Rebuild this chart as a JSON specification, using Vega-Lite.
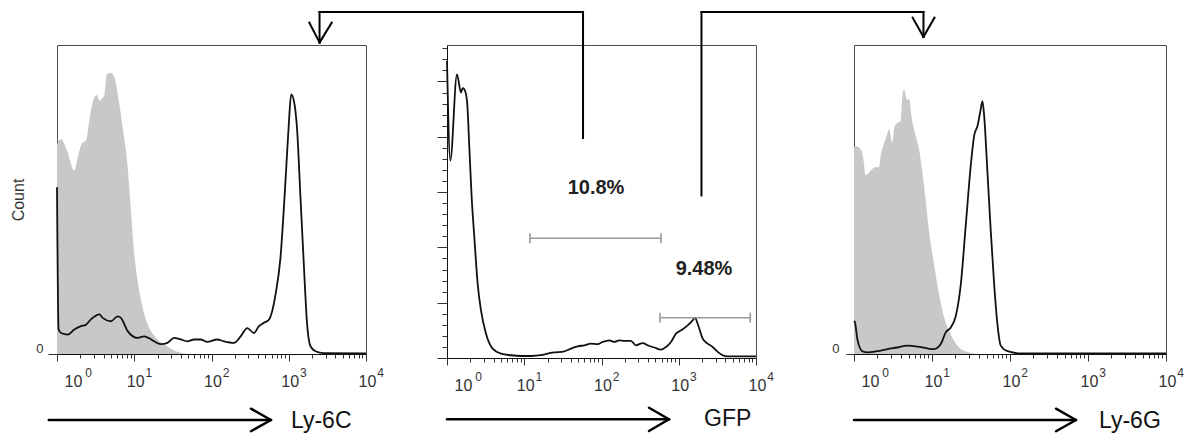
{
  "$schema": "https://vega.github.io/schema/vega-lite/v6.json",
  "background": "white",
  "padding": {"left": 10, "top": 10, "right": 0, "bottom": 0},
  "datasets": {
    "ly6c_isotype": [
      {"log10_intensity": 0, "count": 68}, {"log10_intensity": 0.052, "count": 69.6}, {"log10_intensity": 0.13, "count": 65.8},
      {"log10_intensity": 0.224, "count": 59.3}, {"log10_intensity": 0.289, "count": 65.8}, {"log10_intensity": 0.333, "count": 68.5},
      {"log10_intensity": 0.375, "count": 69}, {"log10_intensity": 0.418, "count": 75.5}, {"log10_intensity": 0.483, "count": 83.1},
      {"log10_intensity": 0.518, "count": 83.7}, {"log10_intensity": 0.548, "count": 82}, {"log10_intensity": 0.583, "count": 82.7},
      {"log10_intensity": 0.613, "count": 83.7}, {"log10_intensity": 0.647, "count": 90.7}, {"log10_intensity": 0.699, "count": 90.9},
      {"log10_intensity": 0.742, "count": 89.6}, {"log10_intensity": 0.806, "count": 81}, {"log10_intensity": 0.85, "count": 73.4},
      {"log10_intensity": 0.915, "count": 60.4}, {"log10_intensity": 0.958, "count": 46.3}, {"log10_intensity": 1.0, "count": 32.4},
      {"log10_intensity": 1.044, "count": 23.6}, {"log10_intensity": 1.109, "count": 14.9}, {"log10_intensity": 1.174, "count": 9.6},
      {"log10_intensity": 1.281, "count": 5.2}, {"log10_intensity": 1.389, "count": 3.1}, {"log10_intensity": 1.54, "count": 0.9},
      {"log10_intensity": 1.73, "count": 0}, {"log10_intensity": 4, "count": 0}
    ],
    "ly6c_stained": [
      {"log10_intensity": 0, "count": 54}, {"log10_intensity": 0.02, "count": 8}, {"log10_intensity": 0.052, "count": 6.8},
      {"log10_intensity": 0.139, "count": 6.3}, {"log10_intensity": 0.224, "count": 7.9}, {"log10_intensity": 0.311, "count": 9.0},
      {"log10_intensity": 0.375, "count": 9.5}, {"log10_intensity": 0.44, "count": 11.2}, {"log10_intensity": 0.548, "count": 12.8},
      {"log10_intensity": 0.591, "count": 11.7}, {"log10_intensity": 0.699, "count": 10.6}, {"log10_intensity": 0.785, "count": 12.2},
      {"log10_intensity": 0.828, "count": 11.7}, {"log10_intensity": 0.915, "count": 7.4}, {"log10_intensity": 1.042, "count": 5.2},
      {"log10_intensity": 1.128, "count": 5.7}, {"log10_intensity": 1.2, "count": 5.0}, {"log10_intensity": 1.257, "count": 4.1},
      {"log10_intensity": 1.343, "count": 3.2}, {"log10_intensity": 1.43, "count": 3.6}, {"log10_intensity": 1.516, "count": 5.2},
      {"log10_intensity": 1.602, "count": 4.7}, {"log10_intensity": 1.688, "count": 4.1}, {"log10_intensity": 1.774, "count": 4.7},
      {"log10_intensity": 1.86, "count": 4.7}, {"log10_intensity": 1.946, "count": 3.9}, {"log10_intensity": 2.075, "count": 4.7},
      {"log10_intensity": 2.161, "count": 4.1}, {"log10_intensity": 2.291, "count": 3.6}, {"log10_intensity": 2.377, "count": 5.7},
      {"log10_intensity": 2.463, "count": 8.4}, {"log10_intensity": 2.549, "count": 6.8}, {"log10_intensity": 2.614, "count": 9.0},
      {"log10_intensity": 2.678, "count": 10.1}, {"log10_intensity": 2.743, "count": 11.1}, {"log10_intensity": 2.786, "count": 13.9},
      {"log10_intensity": 2.829, "count": 19.3}, {"log10_intensity": 2.893, "count": 31.2}, {"log10_intensity": 2.958, "count": 56.1},
      {"log10_intensity": 3.001, "count": 74.5}, {"log10_intensity": 3.031, "count": 84}, {"log10_intensity": 3.066, "count": 82},
      {"log10_intensity": 3.109, "count": 72.3}, {"log10_intensity": 3.152, "count": 50.6}, {"log10_intensity": 3.195, "count": 29},
      {"log10_intensity": 3.238, "count": 9.5}, {"log10_intensity": 3.281, "count": 2.5}, {"log10_intensity": 3.346, "count": 0.9},
      {"log10_intensity": 3.453, "count": 0.3}, {"log10_intensity": 4, "count": 0.2}
    ],
    "gfp": [
      {"log10_intensity": 0, "count": 537}, {"log10_intensity": 0.043, "count": 357}, {"log10_intensity": 0.129, "count": 513},
      {"log10_intensity": 0.181, "count": 480}, {"log10_intensity": 0.203, "count": 488}, {"log10_intensity": 0.224, "count": 486},
      {"log10_intensity": 0.259, "count": 465}, {"log10_intensity": 0.289, "count": 381}, {"log10_intensity": 0.319, "count": 291},
      {"log10_intensity": 0.354, "count": 218}, {"log10_intensity": 0.397, "count": 134}, {"log10_intensity": 0.44, "count": 86},
      {"log10_intensity": 0.505, "count": 44}, {"log10_intensity": 0.591, "count": 17}, {"log10_intensity": 0.699, "count": 8},
      {"log10_intensity": 0.828, "count": 5}, {"log10_intensity": 0.958, "count": 3.6}, {"log10_intensity": 1.09, "count": 3.6},
      {"log10_intensity": 1.217, "count": 5}, {"log10_intensity": 1.303, "count": 8}, {"log10_intensity": 1.389, "count": 10},
      {"log10_intensity": 1.519, "count": 12}, {"log10_intensity": 1.605, "count": 17}, {"log10_intensity": 1.691, "count": 21},
      {"log10_intensity": 1.778, "count": 23}, {"log10_intensity": 1.864, "count": 26}, {"log10_intensity": 1.95, "count": 25},
      {"log10_intensity": 2.014, "count": 29}, {"log10_intensity": 2.101, "count": 32}, {"log10_intensity": 2.166, "count": 29},
      {"log10_intensity": 2.23, "count": 32}, {"log10_intensity": 2.295, "count": 31}, {"log10_intensity": 2.381, "count": 31},
      {"log10_intensity": 2.446, "count": 23}, {"log10_intensity": 2.532, "count": 27}, {"log10_intensity": 2.597, "count": 23},
      {"log10_intensity": 2.684, "count": 19}, {"log10_intensity": 2.77, "count": 15}, {"log10_intensity": 2.835, "count": 20},
      {"log10_intensity": 2.9, "count": 29}, {"log10_intensity": 2.964, "count": 44}, {"log10_intensity": 3.029, "count": 50},
      {"log10_intensity": 3.115, "count": 59}, {"log10_intensity": 3.18, "count": 68}, {"log10_intensity": 3.21, "count": 73},
      {"log10_intensity": 3.245, "count": 62}, {"log10_intensity": 3.31, "count": 35}, {"log10_intensity": 3.374, "count": 26},
      {"log10_intensity": 3.439, "count": 20}, {"log10_intensity": 3.504, "count": 11}, {"log10_intensity": 3.568, "count": 5},
      {"log10_intensity": 3.633, "count": 3}, {"log10_intensity": 4, "count": 3}
    ],
    "ly6g_isotype": [
      {"log10_intensity": 0, "count": 67}, {"log10_intensity": 0.021, "count": 67.2}, {"log10_intensity": 0.086, "count": 66.3},
      {"log10_intensity": 0.12, "count": 63.1}, {"log10_intensity": 0.15, "count": 57.8}, {"log10_intensity": 0.193, "count": 58.8},
      {"log10_intensity": 0.235, "count": 59.9}, {"log10_intensity": 0.278, "count": 60.4}, {"log10_intensity": 0.321, "count": 60.4},
      {"log10_intensity": 0.342, "count": 64.2}, {"log10_intensity": 0.376, "count": 67.4}, {"log10_intensity": 0.419, "count": 70.6},
      {"log10_intensity": 0.449, "count": 72.7}, {"log10_intensity": 0.492, "count": 68.4}, {"log10_intensity": 0.522, "count": 73.8},
      {"log10_intensity": 0.565, "count": 74.9}, {"log10_intensity": 0.599, "count": 75.4}, {"log10_intensity": 0.62, "count": 83.4},
      {"log10_intensity": 0.642, "count": 85.8}, {"log10_intensity": 0.676, "count": 82.4}, {"log10_intensity": 0.71, "count": 82.4},
      {"log10_intensity": 0.736, "count": 77}, {"log10_intensity": 0.779, "count": 71.7}, {"log10_intensity": 0.834, "count": 66.3},
      {"log10_intensity": 0.898, "count": 54.5}, {"log10_intensity": 0.963, "count": 39.6}, {"log10_intensity": 1.027, "count": 28.9},
      {"log10_intensity": 1.091, "count": 19.3}, {"log10_intensity": 1.155, "count": 11.8}, {"log10_intensity": 1.219, "count": 7.5},
      {"log10_intensity": 1.283, "count": 4.3}, {"log10_intensity": 1.369, "count": 1.6}, {"log10_intensity": 1.476, "count": 0.5},
      {"log10_intensity": 1.583, "count": 0}, {"log10_intensity": 4, "count": 0}
    ],
    "ly6g_stained": [
      {"log10_intensity": 0, "count": 10.7}, {"log10_intensity": 0.013, "count": 10.2}, {"log10_intensity": 0.043, "count": 4.8},
      {"log10_intensity": 0.107, "count": 0.9}, {"log10_intensity": 0.171, "count": 0.5}, {"log10_intensity": 0.3, "count": 0.9},
      {"log10_intensity": 0.428, "count": 1.6}, {"log10_intensity": 0.556, "count": 2.1}, {"log10_intensity": 0.684, "count": 2.7},
      {"log10_intensity": 0.813, "count": 2.4}, {"log10_intensity": 0.941, "count": 1.8}, {"log10_intensity": 1.027, "count": 1.6},
      {"log10_intensity": 1.112, "count": 3.2}, {"log10_intensity": 1.176, "count": 7}, {"log10_intensity": 1.241, "count": 8.6},
      {"log10_intensity": 1.305, "count": 12.3}, {"log10_intensity": 1.369, "count": 22.5}, {"log10_intensity": 1.433, "count": 41.7},
      {"log10_intensity": 1.497, "count": 61}, {"log10_intensity": 1.54, "count": 70.6}, {"log10_intensity": 1.583, "count": 73.8},
      {"log10_intensity": 1.617, "count": 78.1}, {"log10_intensity": 1.647, "count": 81.8}, {"log10_intensity": 1.669, "count": 77},
      {"log10_intensity": 1.711, "count": 58.8}, {"log10_intensity": 1.754, "count": 39.6}, {"log10_intensity": 1.797, "count": 22.5},
      {"log10_intensity": 1.839, "count": 9.6}, {"log10_intensity": 1.882, "count": 2.7}, {"log10_intensity": 1.968, "count": 0.9},
      {"log10_intensity": 2.139, "count": 0.2}, {"log10_intensity": 4, "count": 0.2}
    ],
    "gates": [
      {"gate": "10.8%", "lo": 1.074, "hi": 2.77, "level": 216.5, "label_x": 1.929, "label_y": 306.6},
      {"gate": "9.48%", "lo": 2.757, "hi": 3.926, "level": 72.9, "label_x": 3.327, "label_y": 161.8}
    ],
    "connectors": [
      {"x": -1.65, "x2": 1.761, "y": 625.7, "y2": 625.7},
      {"x": 1.761, "x2": 1.761, "y": 625.7, "y2": 397.8},
      {"x": 3.294, "x2": 6.168, "y": 625.7, "y2": 625.7},
      {"x": 3.294, "x2": 3.294, "y": 625.7, "y2": 293.9},
      {"x": -1.65, "x2": -1.65, "y": 625.7, "y2": 570.5},
      {"x": -1.782, "x2": -1.65, "y": 606.3, "y2": 570.5},
      {"x": -1.492, "x2": -1.65, "y": 606.3, "y2": 570.5},
      {"x": 6.168, "x2": 6.168, "y": 625.7, "y2": 580.5},
      {"x": 6.028, "x2": 6.168, "y": 615.4, "y2": 580.5},
      {"x": 6.31, "x2": 6.168, "y": 615.4, "y2": 580.5}
    ],
    "axis_arrows": [
      {"panel": "Ly-6C", "x": -0.107, "x2": 2.77, "y": -21.36, "y2": -21.36},
      {"panel": "Ly-6C", "x": 2.511, "x2": 2.77, "y": -17.7, "y2": -21.36},
      {"panel": "Ly-6C", "x": 2.511, "x2": 2.77, "y": -25.0, "y2": -21.36},
      {"panel": "GFP", "x": 0, "x2": 2.874, "y": -110.8, "y2": -110.8},
      {"panel": "GFP", "x": 2.615, "x2": 2.874, "y": -89.9, "y2": -110.8},
      {"panel": "GFP", "x": 2.615, "x2": 2.874, "y": -132.0, "y2": -110.8},
      {"panel": "Ly-6G", "x": 0, "x2": 2.846, "y": -21.36, "y2": -21.36},
      {"panel": "Ly-6G", "x": 2.59, "x2": 2.846, "y": -17.7, "y2": -21.36},
      {"panel": "Ly-6G", "x": 2.59, "x2": 2.846, "y": -25.0, "y2": -21.36}
    ],
    "axis_titles": [
      {"panel": "Ly-6C", "x": 3.029, "y": -21.7, "label": "Ly-6C"},
      {"panel": "GFP", "x": 3.327, "y": -110.3, "label": "GFP"},
      {"panel": "Ly-6G", "x": 3.141, "y": -21.7, "label": "Ly-6G"}
    ]
  },
  "bounds": "flush",
  "spacing": 81,
  "hconcat": [
    {
      "width": 309,
      "height": 309,
      "resolve": {"axis": {"x": "independent", "y": "independent"}},
      "layer": [
        {
          "data": {"name": "ly6c_isotype"},
          "mark": {"type": "area", "color": "#c8c8c8", "interpolate": "monotone"},
          "encoding": {
            "x": {"field": "log10_intensity", "type": "quantitative", "scale": {"domain": [0, 4], "nice": false, "zero": false},
              "axis": {"orient": "bottom", "title": null, "values": [0,0.30103,0.47712,0.60206,0.69897,0.77815,0.8451,0.90309,0.95424,1,1.30103,1.47712,1.60206,1.69897,1.77815,1.8451,1.90309,1.95424,2,2.30103,2.47712,2.60206,2.69897,2.77815,2.8451,2.90309,2.95424,3,3.30103,3.47712,3.60206,3.69897,3.77815,3.8451,3.90309,3.95424,4],
                "tickSize": {"condition": {"test": "datum.value == round(datum.value)", "value": 7}, "value": 4},
                "labelExpr": "datum.value == round(datum.value) ? '10' : ''",
                "labelFontSize": 16, "labelBaseline": "alphabetic", "labelPadding": 25,
                "labelOffset": {"condition": {"test": "datum.value == 0", "value": 16}, "value": 1},
                "labelFlush": false, "labelOverlap": false, "labelBound": false}},
            "y": {"field": "count", "type": "quantitative", "scale": {"domain": [0, 100], "nice": false},
              "axis": {"orient": "left", "values": [0], "tickSize": 9, "labelFontSize": 13, "labelPadding": 5, "labelBaseline": "alphabetic", "labelOffset": -2, "domain": false, "title": "Count", "titleFontSize": 16, "titlePadding": 9}}
          }
        },
        {
          "data": {"name": "ly6c_stained"},
          "mark": {"type": "line", "color": "#111111", "strokeWidth": 1.8, "interpolate": "monotone"},
          "encoding": {
            "x": {"field": "log10_intensity", "type": "quantitative", "scale": {"domain": [0, 4], "nice": false, "zero": false},
              "axis": {"orient": "bottom", "title": null, "values": [0, 1, 2, 3, 4], "ticks": false, "tickSize": 0, "domain": false,
                "labelExpr": "'' + datum.value", "labelFontSize": 12, "labelBaseline": "alphabetic", "labelPadding": 22,
                "labelOffset": {"condition": {"test": "datum.value == 0", "value": 31}, "value": 14},
                "labelFlush": false, "labelOverlap": false, "labelBound": false}},
            "y": {"field": "count", "type": "quantitative", "scale": {"domain": [0, 100], "nice": false}, "axis": null}
          }
        },
        {
          "data": {"name": "axis_arrows"},
          "transform": [{"filter": "datum.panel === 'Ly-6C'"}],
          "mark": {"type": "rule", "color": "black", "strokeWidth": 2.5, "strokeCap": "round"},
          "encoding": {
            "x": {"field": "x", "type": "quantitative", "scale": {"domain": [0, 4], "nice": false, "zero": false}, "axis": null},
            "x2": {"field": "x2"},
            "y": {"field": "y", "type": "quantitative", "scale": {"domain": [0, 100], "nice": false}, "axis": null},
            "y2": {"field": "y2"}
          }
        },
        {
          "data": {"name": "axis_titles"},
          "transform": [{"filter": "datum.panel === 'Ly-6C'"}],
          "mark": {"type": "text", "align": "left", "baseline": "middle", "fontSize": 23, "color": "#111111"},
          "encoding": {
            "x": {"field": "x", "type": "quantitative", "scale": {"domain": [0, 4], "nice": false, "zero": false}, "axis": null},
            "y": {"field": "y", "type": "quantitative", "scale": {"domain": [0, 100], "nice": false}, "axis": null},
            "text": {"field": "label"}
          }
        }
      ]
    },
    {
      "bounds": "flush",
      "spacing": 98,
      "hconcat": [
        {
          "width": 309,
          "height": 313,
          "resolve": {"axis": {"x": "independent", "y": "independent"}},
          "layer": [
            {
              "data": {"name": "gfp"},
              "mark": {"type": "line", "color": "#111111", "strokeWidth": 1.8, "interpolate": "monotone"},
              "encoding": {
                "x": {"field": "log10_intensity", "type": "quantitative", "scale": {"domain": [0, 4], "nice": false, "zero": false},
                  "axis": {"orient": "bottom", "title": null, "values": [0,0.30103,0.47712,0.60206,0.69897,0.77815,0.8451,0.90309,0.95424,1,1.30103,1.47712,1.60206,1.69897,1.77815,1.8451,1.90309,1.95424,2,2.30103,2.47712,2.60206,2.69897,2.77815,2.8451,2.90309,2.95424,3,3.30103,3.47712,3.60206,3.69897,3.77815,3.8451,3.90309,3.95424,4],
                    "tickSize": {"condition": {"test": "datum.value == round(datum.value)", "value": 7}, "value": 4},
                    "labelExpr": "datum.value == round(datum.value) ? '10' : ''",
                    "labelFontSize": 16, "labelBaseline": "alphabetic", "labelPadding": 25,
                    "labelOffset": {"condition": {"test": "datum.value == 0", "value": 16}, "value": 1},
                    "labelFlush": false, "labelOverlap": false, "labelBound": false}},
                "y": {"field": "count", "type": "quantitative", "scale": {"domain": [0, 566], "nice": false},
                  "axis": {"orient": "left", "title": null, "labels": false, "domain": true,
                    "values": [0,20,40,60,80,100,120,140,160,180,200,220,240,260,280,300,320,340,360,380,400,420,440,460,480,500,520,540,560],
                    "tickSize": {"condition": {"test": "datum.value % 100 == 0", "value": 10}, "value": 5}}}
              }
            },
            {
              "data": {"name": "gfp"},
              "mark": {"type": "line", "opacity": 0},
              "encoding": {
                "x": {"field": "log10_intensity", "type": "quantitative", "scale": {"domain": [0, 4], "nice": false, "zero": false},
                  "axis": {"orient": "bottom", "title": null, "values": [0, 1, 2, 3, 4], "ticks": false, "tickSize": 0, "domain": false,
                    "labelExpr": "'' + datum.value", "labelFontSize": 12, "labelBaseline": "alphabetic", "labelPadding": 22,
                    "labelOffset": {"condition": {"test": "datum.value == 0", "value": 31}, "value": 14},
                    "labelFlush": false, "labelOverlap": false, "labelBound": false}},
                "y": {"field": "count", "type": "quantitative", "scale": {"domain": [0, 566], "nice": false}, "axis": null}
              }
            },
            {
              "data": {"name": "gates"},
              "mark": {"type": "rule", "color": "#9a9a9a", "strokeWidth": 1.6},
              "encoding": {
                "x": {"field": "lo", "type": "quantitative", "scale": {"domain": [0, 4], "nice": false, "zero": false}, "axis": null},
                "x2": {"field": "hi"},
                "y": {"field": "level", "type": "quantitative", "scale": {"domain": [0, 566], "nice": false}, "axis": null}
              }
            },
            {
              "data": {"name": "gates"},
              "transform": [{"fold": ["lo", "hi"], "as": ["end", "bound"]}],
              "mark": {"type": "tick", "orient": "vertical", "color": "#9a9a9a", "size": 10, "thickness": 1.6, "opacity": 1},
              "encoding": {
                "x": {"field": "bound", "type": "quantitative", "scale": {"domain": [0, 4], "nice": false, "zero": false}, "axis": null},
                "y": {"field": "level", "type": "quantitative", "scale": {"domain": [0, 566], "nice": false}, "axis": null}
              }
            },
            {
              "data": {"name": "gates"},
              "mark": {"type": "text", "fontSize": 20, "fontWeight": "bold", "color": "#222222", "align": "center", "baseline": "middle"},
              "encoding": {
                "x": {"field": "label_x", "type": "quantitative", "scale": {"domain": [0, 4], "nice": false, "zero": false}, "axis": null},
                "y": {"field": "label_y", "type": "quantitative", "scale": {"domain": [0, 566], "nice": false}, "axis": null},
                "text": {"field": "gate"}
              }
            },
            {
              "data": {"name": "connectors"},
              "mark": {"type": "rule", "color": "black", "strokeWidth": 2, "strokeCap": "square"},
              "encoding": {
                "x": {"field": "x", "type": "quantitative", "scale": {"domain": [0, 4], "nice": false, "zero": false}, "axis": null},
                "x2": {"field": "x2"},
                "y": {"field": "y", "type": "quantitative", "scale": {"domain": [0, 566], "nice": false}, "axis": null},
                "y2": {"field": "y2"}
              }
            },
            {
              "data": {"name": "axis_arrows"},
              "transform": [{"filter": "datum.panel === 'GFP'"}],
              "mark": {"type": "rule", "color": "black", "strokeWidth": 2.5, "strokeCap": "round"},
              "encoding": {
                "x": {"field": "x", "type": "quantitative", "scale": {"domain": [0, 4], "nice": false, "zero": false}, "axis": null},
                "x2": {"field": "x2"},
                "y": {"field": "y", "type": "quantitative", "scale": {"domain": [0, 566], "nice": false}, "axis": null},
                "y2": {"field": "y2"}
              }
            },
            {
              "data": {"name": "axis_titles"},
              "transform": [{"filter": "datum.panel === 'GFP'"}],
              "mark": {"type": "text", "align": "left", "baseline": "middle", "fontSize": 23, "color": "#111111"},
              "encoding": {
                "x": {"field": "x", "type": "quantitative", "scale": {"domain": [0, 4], "nice": false, "zero": false}, "axis": null},
                "y": {"field": "y", "type": "quantitative", "scale": {"domain": [0, 566], "nice": false}, "axis": null},
                "text": {"field": "label"}
              }
            }
          ]
        },
        {
          "width": 312,
          "height": 309,
          "resolve": {"axis": {"x": "independent", "y": "independent"}},
          "layer": [
            {
              "data": {"name": "ly6g_isotype"},
              "mark": {"type": "area", "color": "#c8c8c8", "interpolate": "monotone"},
              "encoding": {
                "x": {"field": "log10_intensity", "type": "quantitative", "scale": {"domain": [0, 4], "nice": false, "zero": false},
                  "axis": {"orient": "bottom", "title": null, "values": [0,0.30103,0.47712,0.60206,0.69897,0.77815,0.8451,0.90309,0.95424,1,1.30103,1.47712,1.60206,1.69897,1.77815,1.8451,1.90309,1.95424,2,2.30103,2.47712,2.60206,2.69897,2.77815,2.8451,2.90309,2.95424,3,3.30103,3.47712,3.60206,3.69897,3.77815,3.8451,3.90309,3.95424,4],
                    "tickSize": {"condition": {"test": "datum.value == round(datum.value)", "value": 7}, "value": 4},
                    "labelExpr": "datum.value == round(datum.value) ? '10' : ''",
                    "labelFontSize": 16, "labelBaseline": "alphabetic", "labelPadding": 25,
                    "labelOffset": {"condition": {"test": "datum.value == 0", "value": 16}, "value": 1},
                    "labelFlush": false, "labelOverlap": false, "labelBound": false}},
                "y": {"field": "count", "type": "quantitative", "scale": {"domain": [0, 100], "nice": false},
                  "axis": {"orient": "left", "values": [0], "tickSize": 8, "labelFontSize": 13, "labelPadding": 7, "labelBaseline": "alphabetic", "labelOffset": -2, "domain": false, "title": null}}
              }
            },
            {
              "data": {"name": "ly6g_stained"},
              "mark": {"type": "line", "color": "#111111", "strokeWidth": 1.8, "interpolate": "monotone"},
              "encoding": {
                "x": {"field": "log10_intensity", "type": "quantitative", "scale": {"domain": [0, 4], "nice": false, "zero": false},
                  "axis": {"orient": "bottom", "title": null, "values": [0, 1, 2, 3, 4], "ticks": false, "tickSize": 0, "domain": false,
                    "labelExpr": "'' + datum.value", "labelFontSize": 12, "labelBaseline": "alphabetic", "labelPadding": 22,
                    "labelOffset": {"condition": {"test": "datum.value == 0", "value": 31}, "value": 14},
                    "labelFlush": false, "labelOverlap": false, "labelBound": false}},
                "y": {"field": "count", "type": "quantitative", "scale": {"domain": [0, 100], "nice": false}, "axis": null}
              }
            },
            {
              "data": {"name": "axis_arrows"},
              "transform": [{"filter": "datum.panel === 'Ly-6G'"}],
              "mark": {"type": "rule", "color": "black", "strokeWidth": 2.5, "strokeCap": "round"},
              "encoding": {
                "x": {"field": "x", "type": "quantitative", "scale": {"domain": [0, 4], "nice": false, "zero": false}, "axis": null},
                "x2": {"field": "x2"},
                "y": {"field": "y", "type": "quantitative", "scale": {"domain": [0, 100], "nice": false}, "axis": null},
                "y2": {"field": "y2"}
              }
            },
            {
              "data": {"name": "axis_titles"},
              "transform": [{"filter": "datum.panel === 'Ly-6G'"}],
              "mark": {"type": "text", "align": "left", "baseline": "middle", "fontSize": 23, "color": "#111111"},
              "encoding": {
                "x": {"field": "x", "type": "quantitative", "scale": {"domain": [0, 4], "nice": false, "zero": false}, "axis": null},
                "y": {"field": "y", "type": "quantitative", "scale": {"domain": [0, 100], "nice": false}, "axis": null},
                "text": {"field": "label"}
              }
            }
          ]
        }
      ]
    }
  ],
  "config": {
    "font": "Liberation Sans",
    "view": {"stroke": "#4d4d4d", "strokeWidth": 1},
    "axis": {"grid": false, "labelFont": "Liberation Sans", "titleFont": "Liberation Sans", "labelColor": "#333333", "titleColor": "#333333",
      "titleFontWeight": "normal", "tickColor": "#333333", "domainColor": "#111111", "tickWidth": 1, "domainWidth": 1}
  }
}
